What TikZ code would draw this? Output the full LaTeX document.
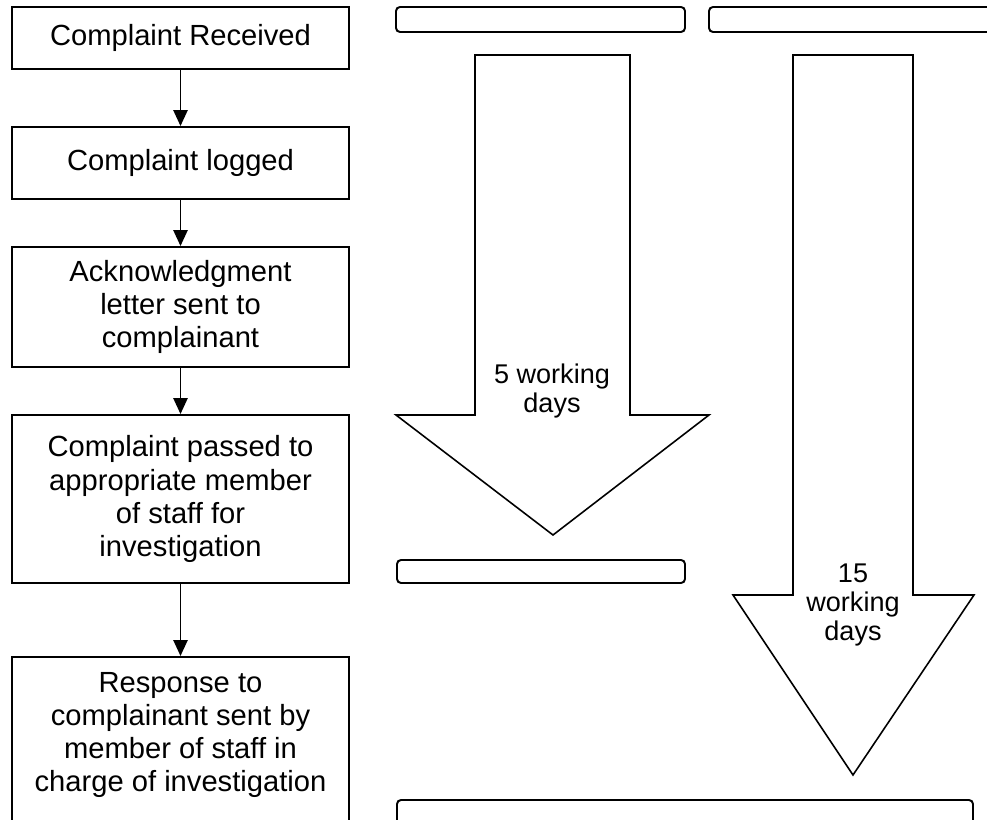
\documentclass[tikz,border=0pt]{standalone}
\usepackage{fontspec}
\setmainfont{Liberation Sans}
\usetikzlibrary{arrows.meta}

\begin{document}
\begin{tikzpicture}[x=0.02cm, y=-0.02cm,
    procbox/.style={draw, line width=1.1pt, minimum width=6.74cm, inner sep=0pt,
      align=center, font=\fontsize{16.6}{18.8}\selectfont},
    timebar/.style={draw, line width=1.1pt, rounded corners=0.08cm},
    flow/.style={-{Triangle[width=8pt, length=9pt]}, line width=1.1pt},
    bigarrow/.style={draw, line width=0.9pt, line join=miter},
    daystext/.style={align=center, font=\fontsize{15.4}{16.6}\selectfont}]
    \useasboundingbox (0,0) rectangle (987,820);

    % the steps
    \node[procbox, minimum height=1.24cm] (recv) at (180.5,38) {Complaint Received};
    \node[procbox, minimum height=1.44cm] (logged) at (180.5,163) {Complaint logged};
    \node[procbox, minimum height=2.4cm] (ack) at (180.5,307)
      {Acknowledgment\\letter sent to\\complainant};
    \node[procbox, minimum height=3.36cm] (passed) at (180.5,499)
      {Complaint passed to\\appropriate member\\of staff for\\investigation};
    \node[procbox, minimum height=4cm, anchor=north] (resp) at (180.5,656) {};
    \node[align=center, font=\fontsize{16.6}{18.8}\selectfont] (resptext) at (180.5,735)
      {Response to\\complainant sent by\\member of staff in\\charge of investigation};

    \draw[flow] (recv) -- (logged);
    \draw[flow] (logged) -- (ack);
    \draw[flow] (ack) -- (passed);
    \draw[flow] (passed) -- (resp);

    % empty bars
    \draw[timebar] (396,7) rectangle (685,32);
    \draw[timebar] (709,7) rectangle (1000,32);
    \draw[timebar] (397,560) rectangle (685,583);
    \draw[timebar] (397,800) rectangle (973,850);

    % block arrows
    \draw[bigarrow] (475,55) -- (630,55) -- (630,415) -- (709,415) -- (553,535)
      -- (396,415) -- (475,415) -- cycle;
    \node[daystext] (fiveday) at (552,391) {5 working\\days};

    \draw[bigarrow] (793,55) -- (913,55) -- (913,595) -- (974,595) -- (853,775)
      -- (733,595) -- (793,595) -- cycle;
    \node[daystext] (fifteenday) at (853,605) {15\\working\\days};

\end{tikzpicture}
\end{document}
